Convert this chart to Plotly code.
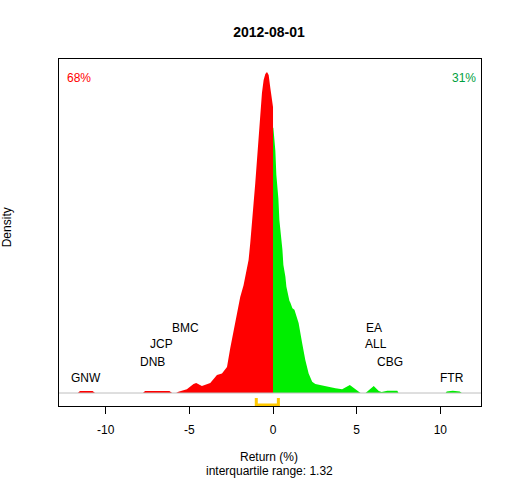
import plotly.graph_objects as go

# ---- data ----
title_date = "2012-08-01"

neg_x = [-11.66, -11.54, -10.78, -10.64, -7.77, -7.65, -6.19, -6.03, -5.79, -5.65,
         -5.15, -4.75, -4.59, -4.25, -3.75, -3.56, -3.35, -3.05, -2.75, -2.56,
         -2.36, -2.16, -1.96, -1.76, -1.56, -1.46, -1.36, -1.26, -1.16, -1.06,
         -0.96, -0.86, -0.76, -0.66, -0.56, -0.46, -0.36, -0.26, -0.16, -0.06, 0.0]
neg_d = [0, 0.006, 0.006, 0, 0, 0.006, 0.006, 0, 0, 0.004,
         0.012, 0.028, 0.031, 0.022, 0.031, 0.043, 0.056, 0.061, 0.081, 0.139,
         0.196, 0.246, 0.299, 0.336, 0.396, 0.414, 0.467, 0.518, 0.592, 0.654,
         0.726, 0.788, 0.872, 0.935, 0.975, 0.994, 1.0, 0.991, 0.950, 0.919, 0.891]

pos_x = [0.0, 0.02, 0.08, 0.14, 0.20, 0.26, 0.32, 0.38, 0.44, 0.50,
         0.56, 0.62, 0.68, 0.74, 0.80, 0.86, 0.92, 0.98, 1.04, 1.10,
         1.16, 1.28, 1.35, 1.44, 1.53, 1.74, 1.93, 2.13, 2.34, 2.53,
         2.93, 3.33, 3.73, 4.13, 4.33, 4.59, 4.81, 5.05, 5.23, 5.53,
         5.65, 6.02, 6.32, 6.49, 6.83, 7.43, 7.50, 10.32, 10.38, 10.74,
         11.16, 11.28]
pos_d = [0.826, 0.826, 0.791, 0.755, 0.679, 0.645, 0.606, 0.539, 0.510, 0.477,
         0.448, 0.399, 0.381, 0.362, 0.331, 0.315, 0.307, 0.287, 0.281, 0.274,
         0.264, 0.259, 0.248, 0.233, 0.218, 0.156, 0.103, 0.061, 0.035, 0.028,
         0.023, 0.020, 0.015, 0.012, 0.017, 0.025, 0.016, 0.006, 0, 0,
         0.006, 0.022, 0.006, 0.003, 0.007, 0.007, 0, 0, 0.005, 0.007,
         0.005, 0]

left_names = ["GNW", "DNB", "JCP", "BMC"]
left_x = [-11.15, -7.23, -6.68, -5.26]
right_names = ["FTR", "CBG", "ALL", "EA"]
right_x = [10.70, 6.99, 6.13, 6.03]

pct_neg = 68
pct_pos = 31
q1, q3 = -1.0, 0.32
iqr = 1.32

x_ticks = [-10, -5, 0, 5, 10]

# ---- figure ----
FONT = "Liberation Sans, Arial, sans-serif"
label_levels = [0.047, 0.098, 0.152, 0.204]
W, H = 512, 480

fig = go.Figure()
fig.add_trace(go.Scatter(x=neg_x, y=neg_d, mode="lines", fill="tozeroy",
                         line=dict(width=0, color="#FF0000"),
                         fillcolor="#FF0000", hoverinfo="skip"))
fig.add_trace(go.Scatter(x=pos_x, y=pos_d, mode="lines", fill="tozeroy",
                         line=dict(width=0, color="#00EE00"),
                         fillcolor="#00EE00", hoverinfo="skip"))

# IQR bracket
fig.add_trace(go.Scatter(x=[q1, q1, q3, q3],
                         y=[-0.0156, -0.0374, -0.0374, -0.0156],
                         mode="lines", line=dict(color="#FFC800", width=3),
                         hoverinfo="skip"))

annotations = []
for names, xs in ((left_names, left_x), (right_names, right_x)):
    for i, (n, xv) in enumerate(zip(names, xs)):
        annotations.append(dict(x=xv, y=label_levels[i], xref="x", yref="y",
                                text=n, showarrow=False,
                                font=dict(size=12, color="black", family=FONT),
                                xanchor="center", yanchor="middle"))

annotations += [
    dict(x=0.0474, y=0.946, xref="paper", yref="paper", text=f"{pct_neg}%",
         showarrow=False, font=dict(size=12, color="#FF0000", family=FONT),
         xanchor="center", yanchor="middle"),
    dict(x=0.960, y=0.946, xref="paper", yref="paper", text=f"{pct_pos}%",
         showarrow=False, font=dict(size=12, color="#00A040", family=FONT),
         xanchor="center", yanchor="middle"),
    dict(x=0.498, y=-0.147, xref="paper", yref="paper", text="Return (%)",
         showarrow=False, font=dict(size=12, color="black", family=FONT),
         xanchor="center", yanchor="middle"),
    dict(x=0.498, y=-0.1865, xref="paper", yref="paper",
         text=f"interquartile range: {iqr:.2f}",
         showarrow=False, font=dict(size=12, color="black", family=FONT),
         xanchor="center", yanchor="middle"),
    dict(x=-0.1224, y=0.516, xref="paper", yref="paper", text="Density",
         textangle=-90, showarrow=False,
         font=dict(size=12, color="black", family=FONT),
         xanchor="center", yanchor="middle"),
]

fig.update_layout(
    width=W, height=H,
    margin=dict(l=59, r=31, t=59, b=74),
    paper_bgcolor="white", plot_bgcolor="white",
    showlegend=False,
    title=dict(text=f"<b>{title_date}</b>", x=269 / W, xanchor="center",
               y=1 - 31.7 / H, yanchor="middle",
               font=dict(size=14, color="black", family=FONT)),
    annotations=annotations,
    shapes=[dict(type="line", xref="paper", yref="y", x0=0, x1=1, y0=0, y1=0,
                 line=dict(color="#BEBEBE", width=1), layer="above")],
)
fig.update_xaxes(range=[-12.79, 12.43], tickvals=x_ticks,
                 ticktext=[str(t) for t in x_ticks],
                 ticks="outside", ticklen=7, tickcolor="black", tickwidth=1,
                 showline=True, linecolor="black", linewidth=1, mirror=True,
                 showgrid=False, zeroline=False,
                 tickfont=dict(size=12, color="black", family=FONT),
                 ticklabelstandoff=6)
fig.update_yaxes(range=[-0.0405, 1.0405], showticklabels=False, ticks="",
                 showline=True, linecolor="black", linewidth=1, mirror=True,
                 showgrid=False, zeroline=False)

fig.write_html("out.html",
               config={"displayModeBar": False, "staticPlot": True},
               post_script="document.body.style.margin='0';"
                           "document.body.style.overflow='hidden';")
